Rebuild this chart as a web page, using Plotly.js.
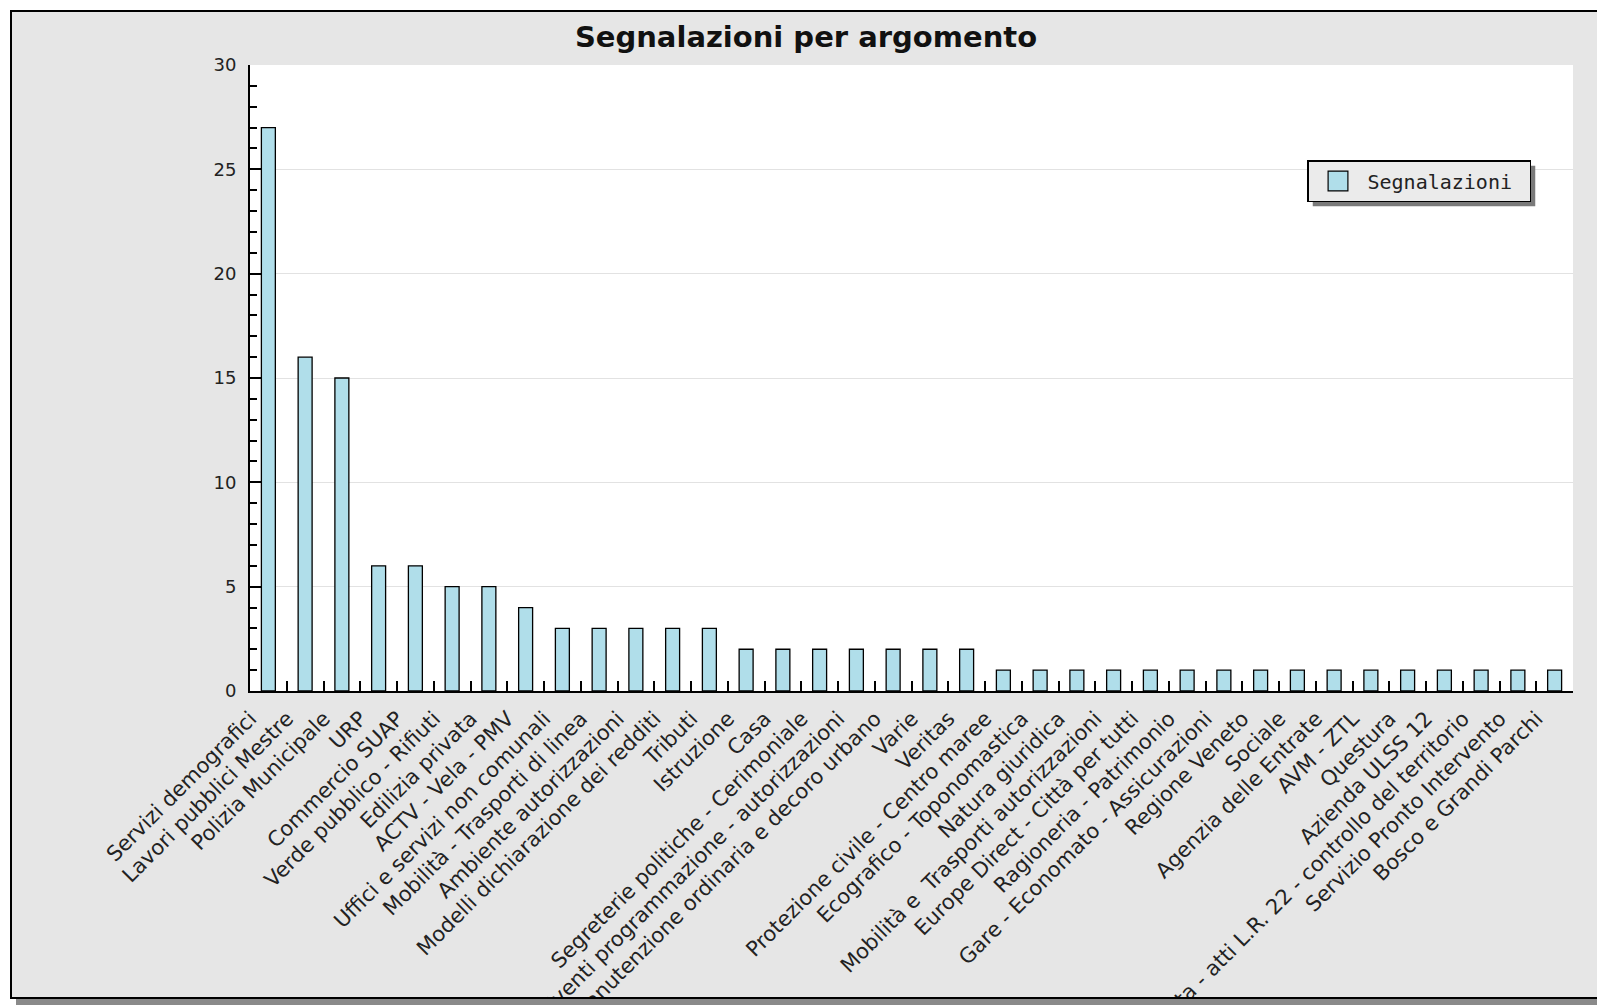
<!DOCTYPE html>
<html>
<head>
<meta charset="utf-8">
<script src="https://cdn.plot.ly/plotly-3.0.1.min.js"></script>
<style>
  html, body { margin: 0; padding: 0; background: #ffffff; overflow: hidden; width: 1597px; height: 1008px; }
  #frame {
    position: absolute; left: 10px; top: 10px;
    width: 1588px; height: 985px;
    border: 2px solid #000;
    box-shadow: 6px 6px 0 #8a8a8a;
    background: #e6e6e6;
    overflow: hidden;
  }
  #chart { width: 1588px; height: 985px; }
</style>
</head>
<body>
<div id="frame"><div id="chart"></div></div>
<script>
const categories = [
  "Servizi demografici",
  "Lavori pubblici Mestre",
  "Polizia Municipale",
  "URP",
  "Commercio SUAP",
  "Verde pubblico - Rifiuti",
  "Edilizia privata",
  "ACTV - Vela - PMV",
  "Uffici e servizi non comunali",
  "Mobilità - Trasporti di linea",
  "Ambiente autorizzazioni",
  "Modelli dichiarazione dei redditi",
  "Tributi",
  "Istruzione",
  "Casa",
  "Segreterie politiche - Cerimoniale",
  "Eventi programmazione - autorizzazioni",
  "Manutenzione ordinaria e decoro urbano",
  "Varie",
  "Veritas",
  "Protezione civile - Centro maree",
  "Ecografico - Toponomastica",
  "Natura giuridica",
  "Mobilità e  Trasporti autorizzazioni",
  "Europe Direct - Città per tutti",
  "Ragioneria - Patrimonio",
  "Gare - Economato - Assicurazioni",
  "Regione Veneto",
  "Sociale",
  "Agenzia delle Entrate",
  "AVM - ZTL",
  "Questura",
  "Azienda ULSS 12",
  "Edilizia privata - atti L.R. 22 - controllo del territorio",
  "Servizio Pronto Intervento",
  "Bosco e Grandi Parchi"
];
const segnalazioni = [27, 16, 15, 6, 6, 5, 5, 4, 3, 3, 3, 3, 3, 2, 2, 2, 2, 2, 2, 2,
  1, 1, 1, 1, 1, 1, 1, 1, 1, 1, 1, 1, 1, 1, 1, 1];
const seriesName = "Segnalazioni";
const chartTitle = "Segnalazioni per argomento";
const yTicks = [0, 5, 10, 15, 20, 25, 30];

// plot area pixel geometry (relative to the chart div)
const W = 1588, H = 985;
const mL = 238, mT = 53, plotW = 1323, plotH = 626;

const trace = {
  type: "bar",
  x: categories,
  y: segnalazioni,
  name: seriesName + "\u00a0",
  width: 0.38,
  marker: { color: "#b0deea", line: { color: "#000000", width: 1.3 } },
  showlegend: true,
  hoverinfo: "x+y"
};

const layout = {
  width: W, height: H,
  margin: { l: mL, t: mT, r: W - mL - plotW, b: H - mT - plotH, pad: 0 },
  paper_bgcolor: "#e6e6e6",
  plot_bgcolor: "#ffffff",
  font: { family: "DejaVu Sans, sans-serif", color: "#222222", size: 16 },
  title: {
    text: chartTitle,
    font: { family: "DejaVu Sans, sans-serif", size: 29, color: "#111111", weight: "bold" },
    x: 0.5, xanchor: "center", xref: "container",
    y: 1 - 25 / H, yanchor: "middle", yref: "container"
  },
  xaxis: {
    type: "category",
    tickangle: -45,
    showline: true, linecolor: "#000000", linewidth: 2,
    ticks: "inside", tickson: "boundaries", ticklen: 10, tickwidth: 2, tickcolor: "#000000",
    showgrid: false, zeroline: false,
    tickfont: { family: "DejaVu Sans, sans-serif", size: 21, color: "#222222" },
    ticklabelstandoff: 5,
    ticklabelshift: -18,
    range: [-0.5, categories.length - 0.5],
    fixedrange: true
  },
  yaxis: {
    range: [0, 30],
    tickmode: "array", tickvals: yTicks, ticktext: yTicks.map(String),
    showline: true, linecolor: "#000000", linewidth: 2,
    ticks: "inside", ticklen: 11, tickwidth: 2, tickcolor: "#000000",
    minor: { dtick: 1, ticks: "inside", ticklen: 7, tickwidth: 2, tickcolor: "#000000", showgrid: false },
    showgrid: true, gridcolor: "#e2e2e2", gridwidth: 1,
    zeroline: false,
    tickfont: { family: "DejaVu Sans, sans-serif", size: 18, color: "#222222" },
    ticklabelstandoff: 8,
    fixedrange: true
  },
  legend: {
    x: (1307 - 12 - mL) / plotW, xanchor: "left",
    y: 1 - (160 - 12 - mT) / plotH, yanchor: "top",
    bgcolor: "#ebebeb", bordercolor: "#000000", borderwidth: 1.5,
    font: { family: "DejaVu Sans Mono, monospace", size: 20, color: "#222222" },
    itemwidth: 49
  }
};

function enlargeLegendSymbol(gd) {
  gd.querySelectorAll(".legend .legendpoints path").forEach(p => {
    const t = p.getAttribute("transform") || "";
    p.setAttribute("transform", (t + " scale(1.65)").trim());
    p.style.strokeWidth = "1.2px";
    p.setAttribute("vector-effect", "non-scaling-stroke");
  });
}

Plotly.newPlot("chart", [trace], layout, { displayModeBar: false, staticPlot: true }).then(gd => {
  // drop shadow behind the legend box, sized from the rendered legend
  const bg = gd.querySelector(".legend .bg");
  if (!bg) return gd;
  const r = bg.getBoundingClientRect();
  const c = gd.getBoundingClientRect();
  const off = 5;
  const toX = p => (p - c.left - mL) / plotW;
  const toY = p => 1 - (p - c.top - mT) / plotH;
  return Plotly.relayout(gd, {
    shapes: [{
      type: "rect", xref: "paper", yref: "paper",
      x0: toX(r.left + off), x1: toX(r.right + off),
      y0: toY(r.bottom + off), y1: toY(r.top + off),
      fillcolor: "#7a7a7a", line: { width: 0 }, layer: "above"
    }]
  });
}).then(gd => { if (gd) enlargeLegendSymbol(gd); });
</script>
</body>
</html>
